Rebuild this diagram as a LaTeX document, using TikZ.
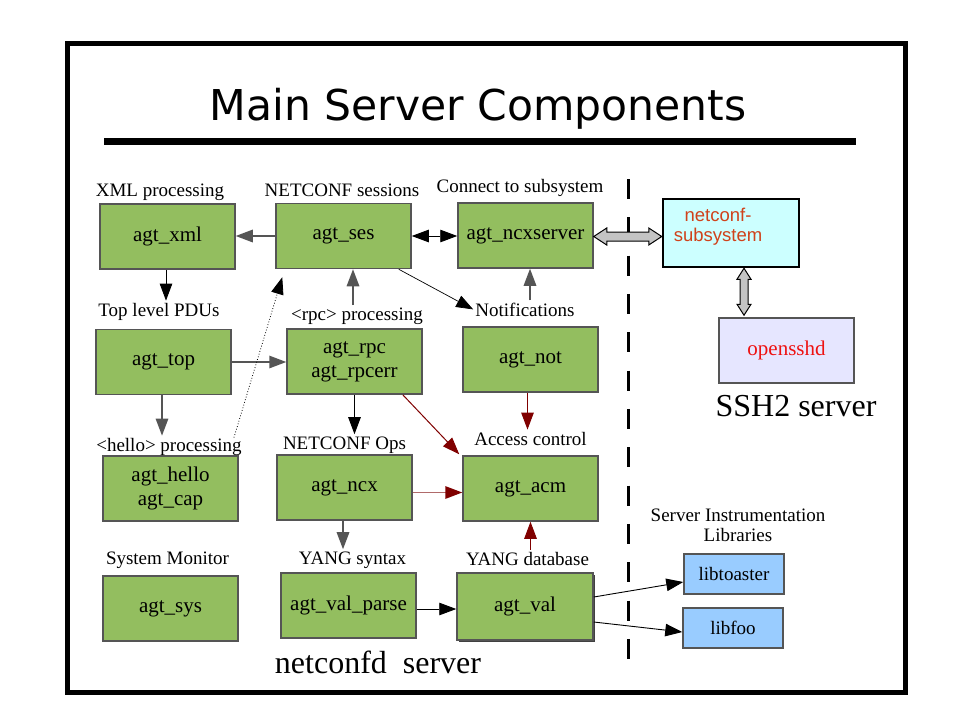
\documentclass[tikz,border=0pt]{standalone}
\usepackage{fontspec}
\setmainfont{Liberation Serif}
\newfontfamily\titlefont{DejaVu Sans}
\newfontfamily\arialfont{Liberation Sans}
\usetikzlibrary{arrows.meta,calc,shadows}
\definecolor{boxgreen}{HTML}{93BE5F}
\definecolor{boxborder}{HTML}{555555}
\definecolor{cyanfill}{HTML}{CCFFFF}
\definecolor{lavfill}{HTML}{E6E6FF}
\definecolor{libfill}{HTML}{99CCFF}
\definecolor{dred}{HTML}{800000}
\definecolor{lred}{HTML}{B06A6A}
\definecolor{subtext}{HTML}{D0421A}
\definecolor{sshdtext}{HTML}{EE1111}
\definecolor{fatgray}{HTML}{C4C4C4}
\definecolor{linegray}{HTML}{555555}
\begin{document}
\begin{tikzpicture}[x=1pt,y=-1pt,
  gbox/.style={draw=boxborder, fill=boxgreen, line width=1.5pt, minimum width=135pt, minimum height=65pt, inner sep=0pt, align=center, font=\fontsize{21}{24}\selectfont},
  lbox/.style={draw=boxborder, fill=libfill, line width=1.5pt, minimum width=100pt, minimum height=40pt, inner sep=0pt, font=\fontsize{19}{22}\selectfont},
  lbl/.style={anchor=base, inner sep=2pt, font=\fontsize{19}{22}\selectfont, align=center},
  big/.style={anchor=base, inner sep=2pt, font=\fontsize{32}{36}\selectfont},
  tip/.style={-{Triangle[length=17pt,width=12.5pt]}},
  barrow/.style={tip, draw=black, line width=0.9pt},
  garrow/.style={tip, draw=linegray, line width=1.5pt},
  rarrow/.style={-{Triangle[length=17pt,width=12.5pt,fill=dred]}, draw=dred, line width=1pt},
  fat/.style={draw=black, fill=fatgray, line width=1pt, line join=miter},
]
\useasboundingbox (0,0) rectangle (960,720);
\fill[white] (0,0) rectangle (960,720);

% frame, title, separators
\draw[line width=5pt] (67.5,43) rectangle (905,692);
\node[anchor=base, inner sep=0pt, font=\titlefont\fontsize{42.5}{46}\selectfont] (title) at (478,120) {Main Server Components};
\draw[line width=7pt] (104,141) -- (856,141);
\draw[line width=3pt, dash pattern=on 20pt off 18.33pt] (628,179) -- (628,659);

% green boxes
\node[gbox] (xml) at (167.5,236.5) {agt\_xml};
\node[gbox] (ses) at (343.5,236) {agt\_ses};
\node[gbox] (ncxs) at (525.5,235.5) {agt\_ncxserver};
\node[gbox] (top) at (163.5,362) {agt\_top};
\node[gbox] (rpc) at (354.5,361.5) {agt\_rpc\\agt\_rpcerr};
\node[gbox] (not) at (530.5,359.5) {agt\_not};
\node[gbox] (hello) at (170.5,488.5) {agt\_hello\\agt\_cap};
\node[gbox] (ncx) at (344.5,487.5) {agt\_ncx};
\node[gbox] (acm) at (530.5,488.5) {agt\_acm};
\node[gbox] (sys) at (170.5,608.5) {agt\_sys};
\node[gbox] (parse) at (348.5,605.5) {agt\_val\_parse};
\node[gbox, minimum width=136pt, minimum height=67pt, drop shadow={shadow xshift=1.5pt, shadow yshift=-2pt, fill=black!75, opacity=1}] (val) at (525,606.5) {agt\_val};

% other boxes
\node[draw=black, fill=cyanfill, line width=2.5pt, minimum width=136pt, minimum height=68pt] (subsys) at (731,233) {};
\node[anchor=center, align=center, inner sep=0pt, text=subtext, font=\arialfont\fontsize{18.5}{20}\selectfont] (subtxt) at (718,227) {netconf-\\subsystem};
\node[draw=boxborder, fill=lavfill, line width=1.5pt, minimum width=135pt, minimum height=65pt, text=sshdtext, font=\fontsize{21}{24}\selectfont] (sshd) at (786.5,350.5) {opensshd};
\node[lbox] (toaster) at (734,574) {libtoaster};
\node[lbox] (foo) at (733,628) {libfoo};

% labels
\node[lbl] (lXml) at (160,196) {XML processing};
\node[lbl] (lSes) at (342,196) {NETCONF sessions};
\node[lbl] (lCon) at (520,192) {Connect to subsystem};
\node[lbl] (lTop) at (159,316) {Top level PDUs};
\node[lbl] (lRpc) at (357,320) {<rpc> processing};
\node[lbl] (lNot) at (525,316) {Notifications};
\node[lbl] (lHel) at (169,451) {<hello> processing};
\node[lbl] (lOps) at (344.5,449) {NETCONF Ops};
\node[lbl] (lAcc) at (530.5,445) {Access control};
\node[lbl] (lSys) at (167.5,564) {System Monitor};
\node[lbl] (lSyn) at (352.5,564) {YANG syntax};
\node[lbl] (lDb) at (527.5,565) {YANG database};
\node[lbl, font=\fontsize{19}{20}\selectfont] (lLib) at (738,541) {Server Instrumentation\\Libraries};
\node[big] (lSsh) at (796,416) {SSH2 server};
\node[big] (lNcd) at (378,673) {netconfd\ \ server};

% connectors
\draw[garrow] (ses.west) -- (ses.west -| xml.east);
\draw[barrow] ([xshift=-1.5pt]xml.south) -- ([xshift=-1.5pt]xml.south |- lTop.north);
\draw[barrow, {Triangle[length=17pt,width=12.5pt]}-{Triangle[length=17pt,width=12.5pt]}] (ses.east) -- (ses.east -| ncxs.west);
\draw[garrow] (top.east) -- (top.east -| rpc.west);
\draw[garrow] ([xshift=-4pt]lRpc.north) -- ([xshift=-4pt]lRpc.north |- ses.south);
\draw[garrow] ([xshift=-1.5pt]top.south) -- ([xshift=-1.5pt]top.south |- lHel.north);
\draw[tip, draw=black, line width=0.8pt, dotted] ([xshift=-10pt,yshift=-2pt]lHel.north east) -- ([shift={(7,8)}]ses.south west);
\draw[-{Triangle[length=17pt,width=12.5pt]}, line width=0.7pt] ([xshift=-13pt]ses.south east) -- (lNot.west);
\draw[garrow] ([xshift=5pt]lNot.north) -- ([xshift=5pt]lNot.north |- ncxs.south);
\draw[rarrow] ([xshift=-3pt]not.south) -- ([xshift=-3pt]not.south |- lAcc.north);
\draw[rarrow] ([xshift=-20pt]rpc.south east) -- ([shift={(-3,-1)}]acm.north west);
\draw[-{Triangle[length=17pt,width=12.5pt,color=dred,fill=dred]}, draw=lred, line width=1.5pt] ([yshift=-5pt]ncx.east) -- ([yshift=-5pt]ncx.east -| acm.west);
\draw[barrow] (rpc.south) -- (rpc.south |- lOps.north);
\draw[garrow] ([xshift=-1.5pt]ncx.south) -- ([xshift=-1.5pt]ncx.south |- lSyn.north);
\draw[rarrow] (acm.south |- lDb.north) -- (acm.south);
\draw[barrow] ([yshift=-3.5pt]parse.east) -- ([yshift=-3.5pt]parse.east -| val.west);
\draw[barrow] ([yshift=9.5pt]val.east) -- ([yshift=-8pt]toaster.west);
\draw[barrow] ([yshift=-15.5pt]val.east) -- ([yshift=-4pt]foo.west);

% fat double arrows
\coordinate (fa) at ([yshift=-1pt]ncxs.east);
\coordinate (fb) at (fa -| subsys.west);
\draw[fat] (fa) -- ++(13,-8.5) -- ++(0,4) -- ($(fb)+(-13,-4.5)$) -- ++(0,-4) -- (fb) -- ++(-13,8.5) -- ++(0,-4) -- ($(fa)+(13,4.5)$) -- ++(0,4) -- cycle;
\coordinate (va) at ([xshift=13pt]subsys.south);
\coordinate (vb) at ([yshift=2pt]va |- sshd.north);
\draw[fat] (va) -- ++(7,11) -- ++(-3,0) -- ($(vb)+(4,-11)$) -- ++(3,0) -- (vb) -- ++(-7,-11) -- ++(3,0) -- ($(va)+(-4,11)$) -- ++(-3,0) -- cycle;
\end{tikzpicture}
\end{document}
